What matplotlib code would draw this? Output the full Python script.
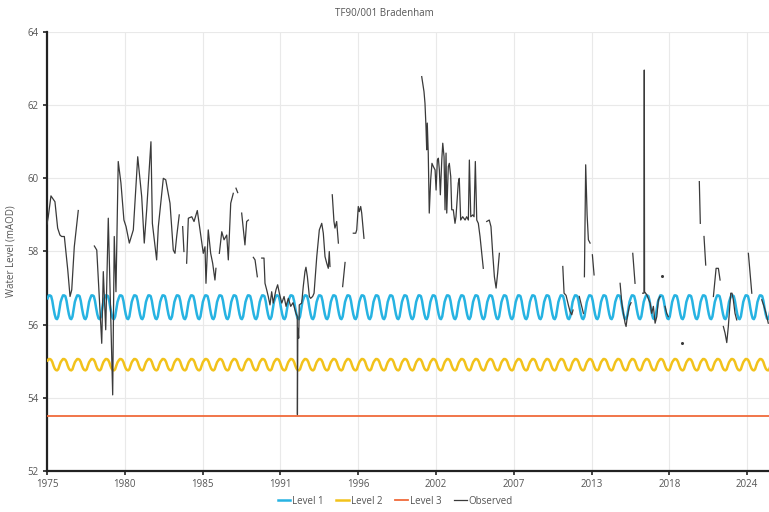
import numpy as np
import matplotlib
matplotlib.use("Agg")
import matplotlib.pyplot as plt

plt.rcParams['font.family'] = ['Open Sans', 'DejaVu Sans']

title = "TF90/001 Bradenham"
y_label = "Water Level (mAOD)"

# Monthly threshold profiles (Jan..Dec), repeated every year
months = np.arange(12)
level1_profile = [56.72, 56.80, 56.80, 56.78, 56.65, 56.45, 56.28, 56.17, 56.15, 56.22, 56.42, 56.62]
level2_profile = [55.02, 55.06, 55.06, 55.04, 54.98, 54.88, 54.80, 54.76, 54.75, 54.78, 54.88, 54.97]
level3_value = 53.5
level_years = np.arange(1975, 2026)

nan = np.nan
# Observed groundwater level (decimal year, mAOD); NaN marks gaps in the record
obs_year = [
    1975.00, 1975.09, 1975.28, 1975.56, 1975.75, 1975.91, 1976.03, 1976.22, 1976.46, 1976.62, 1976.74, 1976.92, 1977.20, nan,
    1978.33, 1978.50, 1978.85, 1978.96, 1979.13, 1979.31, 1979.62, 1979.73, 1979.85, 1980.01, 1980.20, 1980.41, 1980.56,
    1980.79, 1981.07, 1981.38, 1981.66, 1981.84, 1982.01, 1982.31, 1982.41, 1982.71, 1982.83, 1983.18, 1983.35, 1983.65,
    1983.88, 1984.00, 1984.12, 1984.30, nan,
    1984.54, 1984.63, nan,
    1984.82, 1984.94, 1985.18, 1985.34, 1985.57, 1985.76, 1985.99, 1986.11, 1986.18, 1986.34, 1986.51, 1986.65, 1986.81, 1986.88, nan,
    1987.12, 1987.29, 1987.45, 1987.64, 1987.75, 1987.92, 1988.10, nan,
    1988.29, 1988.41, nan,
    1988.69, 1988.92, 1989.04, 1989.16, nan,
    1989.51, 1989.63, 1989.79, nan,
    1990.10, 1990.26, 1990.33, 1990.45, 1990.56, 1990.68, 1990.80, 1990.91, 1991.10, 1991.22, 1991.34, 1991.51, 1991.67,
    1991.81, 1991.97, 1992.14, 1992.30, 1992.51, 1992.60, 1992.61, 1992.64, 1992.70, 1992.74, 1992.91, 1993.02, 1993.14,
    1993.21, 1993.31, 1993.45, 1993.54, 1993.68, 1993.78, 1993.97, 1994.15, 1994.32, 1994.43, 1994.55, 1994.67, 1994.78,
    1994.85, 1994.90, nan,
    1995.06, 1995.18, 1995.25, 1995.37, 1995.49, nan,
    1995.79, 1995.96, nan,
    1996.54, 1996.71, 1996.78, 1996.89, 1996.96, 1997.06, 1997.13, 1997.29, nan,
    2001.35, 2001.46, 2001.51, 2001.58, 2001.65, 2001.70, 2001.74, 2001.81, 2001.88, 2001.98, 2002.07, 2002.17, 2002.29,
    2002.36, 2002.45, 2002.52, 2002.59, 2002.66, 2002.76, 2002.83, 2002.92, 2002.99, 2003.06, 2003.11, 2003.22, 2003.29,
    2003.39, 2003.46, 2003.57, 2003.69, 2003.76, 2003.92, 2003.99, 2004.09, 2004.23, 2004.40, 2004.51, 2004.63, 2004.70,
    2004.80, 2004.94, 2005.03, 2005.12, 2005.22, 2005.33, 2005.45, 2005.57, 2005.68, nan,
    2005.92, 2006.10, 2006.22, 2006.34, 2006.46, 2006.58, 2006.69, 2006.81, nan,
    2011.27, 2011.36, 2011.50, 2011.66, 2011.78, 2011.90, 2011.99, nan,
    2012.43, 2012.60, 2012.72, nan,
    2012.79, 2012.88, 2012.98, 2013.07, 2013.19, nan,
    2013.35, 2013.47, nan,
    2015.30, 2015.42, 2015.53, 2015.65, 2015.72, 2015.81, 2015.95, 2016.07, nan,
    2016.19, 2016.35, nan,
    2016.89, 2016.98, 2017.00, 2017.02, 2017.17, 2017.41, 2017.52, 2017.64, 2017.76, 2017.88, 2017.99, 2018.11, nan,
    2018.46, 2018.58, 2018.69, nan,
    2020.87, 2020.94, nan,
    2021.20, 2021.32, nan,
    2021.86, 2022.05, 2022.21, 2022.33, nan,
    2022.56, 2022.68, 2022.80, 2022.91, 2023.08, 2023.17, 2023.26, 2023.38, 2023.50, nan,
    2024.32, 2024.44, 2024.56, nan,
    2025.26, 2025.42, 2025.56, 2025.72,
]
obs_level = [
    58.75, 58.95, 59.52, 59.36, 58.64, 58.45, 58.41, 58.41, 57.50, 56.77, 56.95, 58.13, 59.12, nan,
    58.15, 58.04, 55.49, 57.45, 55.86, 58.91, 54.08, 58.41, 56.90, 60.46, 59.87, 58.86, 58.68,
    58.23, 58.59, 60.59, 59.50, 58.23, 59.14, 61.00, 58.77, 57.77, 58.68, 60.00, 59.96, 59.32,
    58.04, 57.95, 58.41, 59.00, nan,
    58.68, 58.00, nan,
    57.68, 58.91, 58.95, 58.82, 59.12, 58.59, 57.95, 58.13, 57.13, 58.59, 57.95, 57.68, 57.22, 57.54, nan,
    57.95, 58.54, 58.32, 58.45, 57.77, 59.32, 59.59, nan,
    59.73, 59.61, nan,
    59.05, 58.18, 58.82, 58.86, nan,
    57.84, 57.77, 57.31, nan,
    57.82, 57.82, 57.13, 56.95, 56.77, 56.54, 56.90, 56.59, 56.95, 57.09, 56.86, 56.59, 56.77,
    56.50, 56.72, 56.50, 56.60, 56.31, 56.22, 53.54, 55.90, 55.63, 56.54, 56.59, 57.04, 57.45,
    57.57, 57.31, 56.77, 56.72, 56.77, 56.86, 57.86, 58.59, 58.77, 58.50, 57.86, 57.68, 57.54,
    58.00, 57.59, nan,
    59.55, 58.82, 58.64, 58.82, 58.23, nan,
    57.04, 57.70, nan,
    58.50, 58.50, 58.59, 59.23, 59.09, 59.23, 59.05, 58.36, nan,
    62.78, 62.51, 62.37, 62.05, 61.41, 60.78, 61.51, 60.69, 59.05, 59.96, 60.41, 60.32, 60.23,
    59.68, 60.50, 60.55, 60.23, 59.55, 60.50, 60.96, 60.59, 59.14, 60.69, 59.05, 60.32, 60.41,
    60.05, 59.14, 59.14, 58.77, 58.95, 59.87, 60.00, 58.86, 58.95, 58.86, 58.95, 58.86, 60.50,
    58.95, 59.00, 58.95, 60.46, 58.86, 58.77, 58.41, 57.95, 57.54, nan,
    58.82, 58.86, 58.68, 57.95, 57.31, 57.00, 57.41, 57.95, nan,
    57.59, 56.86, 56.80, 56.54, 56.36, 56.27, 56.40, nan,
    56.77, 56.50, 56.31, nan,
    57.31, 60.37, 59.00, 58.32, 58.23, nan,
    57.91, 57.36, nan,
    57.13, 56.59, 56.31, 56.04, 55.95, 56.22, 56.50, 56.60, nan,
    57.95, 57.13, nan,
    56.86, 56.86, 62.96, 56.90, 56.82, 56.59, 56.31, 56.50, 56.04, 56.22, 56.68, 56.77, nan,
    56.50, 56.31, 56.22, nan,
    59.91, 58.77, nan,
    58.41, 57.63, nan,
    56.77, 57.54, 57.54, 57.22, nan,
    55.95, 55.77, 55.51, 55.95, 56.86, 56.86, 56.68, 56.31, 56.13, nan,
    57.95, 57.41, 56.86, nan,
    56.68, 56.50, 56.31, 56.04,
]
# Isolated single readings
obs_point_year = [2018.23, 2019.64]
obs_point_level = [57.33, 55.51]

x_tick_pos = np.linspace(1975, 2024.23, 10)
x_tick_labels = ['1975', '1980', '1985', '1991', '1996', '2002', '2007', '2013', '2018', '2024']
y_ticks = [52, 54, 56, 58, 60, 62, 64]

text_color = '#555555'
c_level1 = '#27b3e2'
c_level2 = '#f2c21b'
c_level3 = '#f06a3a'
c_obs = '#3a3a3a'

fig = plt.figure(figsize=(7.69, 5.12), dpi=100)
ax = fig.add_axes([0.0611, 0.0801, 0.9389, 0.8574])

t_lvl = (np.repeat(level_years, 12) + np.tile((months + 0.5) / 12.0, len(level_years)))
l1 = np.tile(level1_profile, len(level_years))
l2 = np.tile(level2_profile, len(level_years))

ax.plot(t_lvl, l1, color=c_level1, lw=1.8, label='Level 1', zorder=3)
ax.plot(t_lvl, l2, color=c_level2, lw=1.8, label='Level 2', zorder=3)
ax.axhline(level3_value, color=c_level3, lw=1.3, label='Level 3', zorder=3)
ax.plot(obs_year, obs_level, color=c_obs, lw=0.9, label='Observed', zorder=4)
ax.plot(obs_point_year, obs_point_level, linestyle='none', marker='o', ms=1.2, color=c_obs, zorder=4)

ax.set_xlim(1975, 2025.77)
ax.set_ylim(52, 64)
ax.set_xticks(x_tick_pos)
ax.set_xticklabels(x_tick_labels)
ax.set_yticks(y_ticks)
ax.grid(True, color='#e9e9e9', lw=0.8)
ax.set_axisbelow(True)
for s in ['top', 'right']:
    ax.spines[s].set_visible(False)
for s in ['left', 'bottom']:
    ax.spines[s].set_linewidth(1.6)
    ax.spines[s].set_color('#222222')
ax.tick_params(axis='both', length=3, width=1.2, color='#222222', labelsize=7, labelcolor=text_color, pad=3)

ax.set_ylabel(y_label, fontsize=7, color=text_color, labelpad=8)
fig.text(0.5, 0.974, title, ha='center', va='center', fontsize=7, color=text_color)

fig.legend(loc='center', bbox_to_anchor=(0.514, 0.021), ncol=4, frameon=False,
           fontsize=7, handlelength=1.3, handletextpad=0.2, columnspacing=1.3,
           labelcolor=text_color)

fig.savefig('out.png', dpi=100)
